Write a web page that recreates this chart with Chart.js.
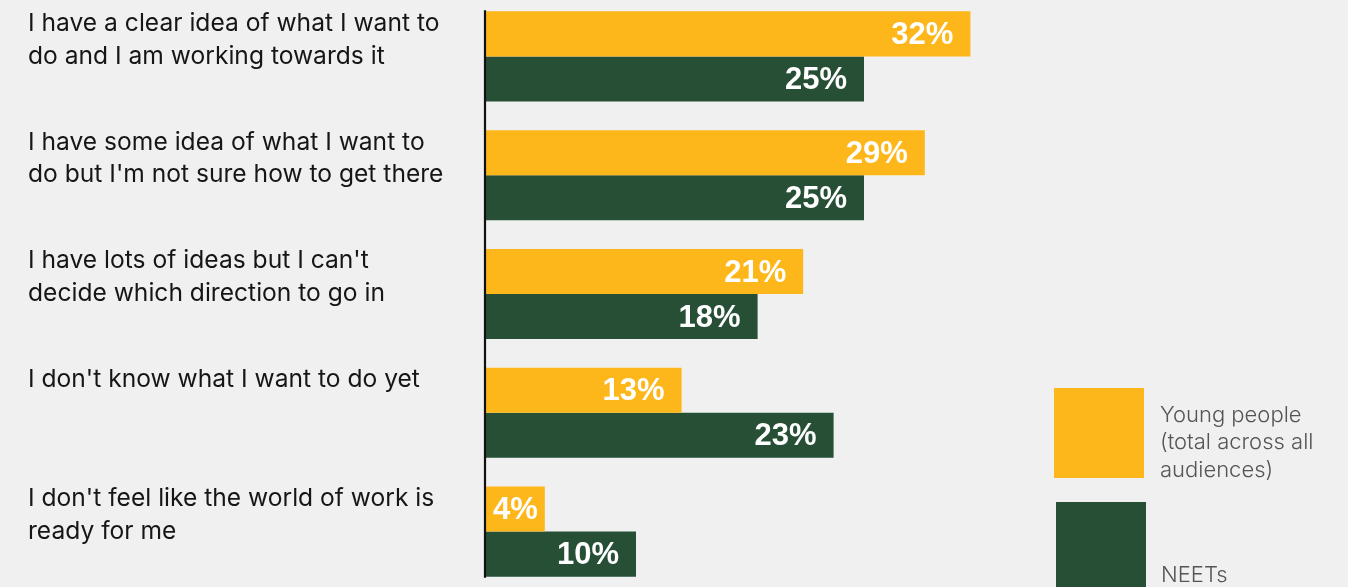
<!DOCTYPE html>
<html><head><meta charset="utf-8">
<script src="https://cdn.jsdelivr.net/npm/chart.js@4"></script>
<style>
html,body{margin:0;padding:0;background:#f0f0f0;overflow:hidden;width:1348px;height:587px;}
#wrap{position:absolute;left:0;top:-3px;width:1348px;height:594px;}
</style></head><body>
<div id="wrap"><canvas id="c"></canvas></div>
<script>
const categories = [
  ["I have a clear idea of what I want to", "do and I am working towards it"],
  ["I have some idea of what I want to", "do but I'm not sure how to get there"],
  ["I have lots of ideas but I can't", "decide which direction to go in"],
  ["I don't know what I want to do yet"],
  ["I don't feel like the world of work is", "ready for me"]
];
const youngPeople = [32, 29, 21, 13, 4];
const neets = [25, 25, 18, 23, 10];
const seriesNames = [["Young people", "(total across all", "audiences)"], ["NEETs"]];
const colors = ["#FDB71A", "#264F36"];

const LABEL_FONT = '400 24.6px Inter, "Noto Sans", sans-serif';
const VALUE_FONT = 'bold 31px "Liberation Sans", Arial, sans-serif';
const LEGEND_FONT = '300 22px Inter, "Noto Sans", sans-serif';

const drawPlugin = {
  id: 'custom',
  afterDatasetsDraw(chart) {
    const ctx = chart.ctx;
    const xs = chart.scales.x;
    const m0 = chart.getDatasetMeta(0), m1 = chart.getDatasetMeta(1);
    ctx.save();
    // value labels
    [m0, m1].forEach((meta, di) => {
      const data = chart.data.datasets[di].data;
      meta.data.forEach((bar, i) => {
        const txt = data[i] + '%';
        ctx.font = VALUE_FONT;
        ctx.fillStyle = '#ffffff';
        ctx.textBaseline = 'middle';
        const w = ctx.measureText(txt).width;
        const left = bar.base, right = bar.x;
        if (right - left > w + 34) {
          ctx.textAlign = 'right';
          ctx.fillText(txt, right - 17, bar.y + 1.5);
        } else {
          ctx.textAlign = 'center';
          ctx.fillText(txt, (left + right) / 2 + 1, bar.y + 1.5);
        }
      });
    });
    // axis line
    const x0 = xs.getPixelForValue(0);
    const firstTop = m0.data[0].y - m0.data[0].height / 2;
    const last = m1.data[m1.data.length - 1];
    const lastBottom = last.y + last.height / 2;
    ctx.strokeStyle = '#111111';
    ctx.lineWidth = 2.2;
    ctx.beginPath();
    ctx.moveTo(x0 + 1, firstTop - 1);
    ctx.lineTo(x0 + 1, lastBottom + 1);
    ctx.stroke();
    // category labels
    ctx.font = LABEL_FONT;
    ctx.fillStyle = '#161616';
    ctx.textAlign = 'left';
    ctx.textBaseline = 'alphabetic';
    categories.forEach((lines, i) => {
      const top = m0.data[i].y - m0.data[i].height / 2;
      lines.forEach((ln, k) => {
        ctx.fillText(ln, 28, top + 19.5 + k * 32.7);
      });
    });
    // legend
    const off = 3; // canvas offset vs page
    const boxes = [{x: 1054, y: 388}, {x: 1056, y: 502}];
    boxes.forEach((b, i) => {
      ctx.fillStyle = colors[i];
      ctx.fillRect(b.x, b.y + off, 90, 90);
    });
    ctx.font = LEGEND_FONT;
    ctx.fillStyle = '#555555';
    seriesNames[0].forEach((ln, k) => ctx.fillText(ln, 1160, 421.7 + off + k * 27.5));
    seriesNames[1].forEach((ln, k) => ctx.fillText(ln, 1161, 581.7 + off + k * 27.5));
    ctx.restore();
  }
};

new Chart(document.getElementById('c'), {
  type: 'bar',
  data: {
    labels: categories.map(l => l.join(' ')),
    datasets: [
      {label: seriesNames[0].join(' '), data: youngPeople, backgroundColor: colors[0], categoryPercentage: 0.758, barPercentage: 1.0},
      {label: seriesNames[1].join(' '), data: neets, backgroundColor: colors[1], categoryPercentage: 0.758, barPercentage: 1.0}
    ]
  },
  options: {
    indexAxis: 'y',
    responsive: true,
    maintainAspectRatio: false,
    animation: false,
    layout: {padding: {left: 484, right: 256, top: 0, bottom: 0}},
    scales: {
      x: {display: false, min: 0, max: 40},
      y: {display: false}
    },
    plugins: {legend: {display: false}, tooltip: {enabled: false}}
  },
  plugins: [drawPlugin]
});
</script>
</body></html>
